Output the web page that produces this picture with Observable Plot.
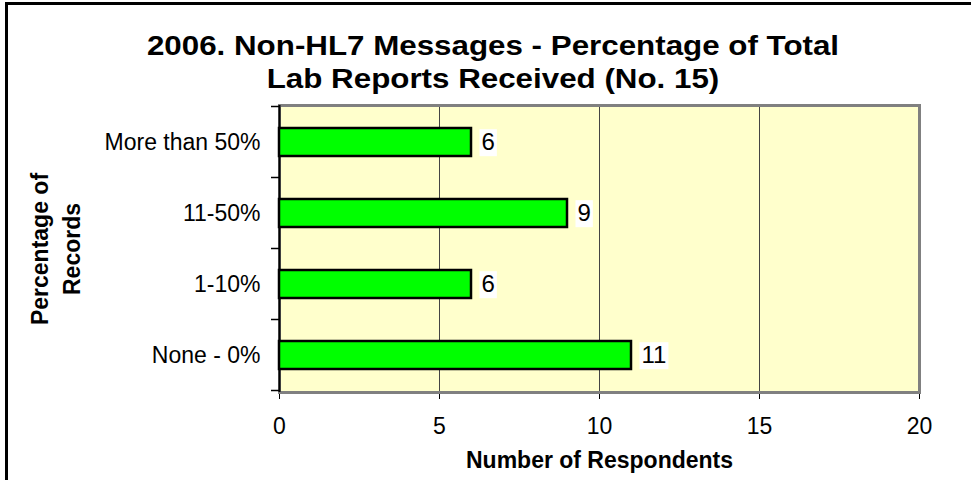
<!DOCTYPE html>
<html>
<head>
<meta charset="utf-8">
<script src="https://cdn.jsdelivr.net/npm/d3@7"></script>
<script src="https://cdn.jsdelivr.net/npm/@observablehq/plot@0.6"></script>
<style>
  html, body { margin: 0; padding: 0; background: #fff; }
  #wrap { position: relative; width: 971px; height: 480px; overflow: hidden; font-family: "Liberation Sans", Arial, sans-serif; }
  #border { position: absolute; left: 5px; top: 2px; width: 2000px; height: 2000px; border-left: 3px solid #000; border-top: 3px solid #000; }
  #chart { position: absolute; left: 0; top: 0; }
  #title { position: absolute; left: 0; top: 30px; width: 986px; text-align: center; font-weight: bold; font-size: 27px; line-height: 32.5px; color: #000; transform: scaleX(1.16); transform-origin: 493px 50%; white-space: nowrap; }
</style>
</head>
<body>
<div id="wrap">
  <div id="border"></div>
  <div id="chart"></div>
  <div id="title">2006. Non-HL7 Messages - Percentage of Total<br>Lab Reports Received (No. 15)</div>
</div>
<script>
const categories = ["More than 50%", "11-50%", "1-10%", "None - 0%"];
const respondents = [6, 9, 6, 11];
const xTicks = [0, 5, 10, 15, 20];
const xGrid = [5, 10, 15];
const yTitle = "Percentage of\nRecords";
const xTitle = "Number of Respondents";

const rows = categories.map((category, i) => ({category, value: respondents[i]}));

const chart = Plot.plot({
  width: 971,
  height: 480,
  marginLeft: 279,
  marginRight: 52,
  marginTop: 105,
  marginBottom: 88,
  style: {fontFamily: '"Liberation Sans", Arial, sans-serif', fontSize: "23px", color: "#000", background: "transparent", overflow: "visible"},
  x: {domain: [0, 20], ticks: xTicks, tickSize: 7, tickPadding: 18, label: null},
  y: {domain: categories, paddingInner: 0.6, paddingOuter: 0.3, tickSize: 0, tickPadding: 19, label: null},
  marks: [
    Plot.frame({fill: "#ffffcc", stroke: "none"}),
    Plot.ruleX(xGrid, {stroke: "#444", strokeWidth: 1}),
    Plot.frame({stroke: "#808080", strokeWidth: 3}),
    Plot.ruleX([0], {stroke: "#000", strokeWidth: 2}),
    Plot.barX(rows, {x: "value", y: "category", fill: "#00ff00", stroke: "#000", strokeWidth: 2.5}),
    Plot.text(rows, {x: "value", y: "category", text: d => String(d.value), textAnchor: "start", dx: 10, fontSize: 24, fill: "#000"}),
    Plot.text([yTitle], {text: d => d, frameAnchor: "left", textAnchor: "middle", lineAnchor: "middle", rotate: -90, dx: -226, dy: 0, fontWeight: "bold", fontSize: 23, lineHeight: 1.4}),
    Plot.text([xTitle], {text: d => d, frameAnchor: "bottom", textAnchor: "middle", lineAnchor: "middle", dy: 68, fontWeight: "bold", fontSize: 23})
  ]
});

document.getElementById("chart").appendChild(chart);

// white boxes behind the value labels
const labelStrings = respondents.map(String);
chart.querySelectorAll("g").forEach(g => {
  const texts = Array.from(g.children).filter(el => el.tagName.toLowerCase() === "text");
  if (texts.length !== labelStrings.length) return;
  if (!texts.every((t, i) => t.textContent === labelStrings[i])) return;
  texts.forEach(t => {
    const b = t.getBBox();
    const r = document.createElementNS("http://www.w3.org/2000/svg", "rect");
    r.setAttribute("x", b.x - 2);
    r.setAttribute("y", b.y + 1);
    r.setAttribute("width", b.width + 4);
    r.setAttribute("height", b.height);
    r.setAttribute("fill", "#fff");
    r.setAttribute("stroke", "none");
    const tr = t.getAttribute("transform");
    if (tr) r.setAttribute("transform", tr);
    g.insertBefore(r, t);
  });
});

// category boundary ticks on the y axis
const ys = chart.scale("y");
const xs = chart.scale("x");
const x0 = xs.apply(0);
const gap = (ys.step - ys.bandwidth) / 2;
const bounds = categories.map(c => ys.apply(c) - gap);
bounds.push(ys.apply(categories[categories.length - 1]) + ys.bandwidth + gap);
const tickG = d3.select(chart).append("g").attr("stroke", "#000").attr("stroke-width", 1.5);
tickG.selectAll("line").data(bounds).join("line")
  .attr("x1", x0 - 8).attr("x2", x0)
  .attr("y1", d => d).attr("y2", d => d);
</script>
</body>
</html>
